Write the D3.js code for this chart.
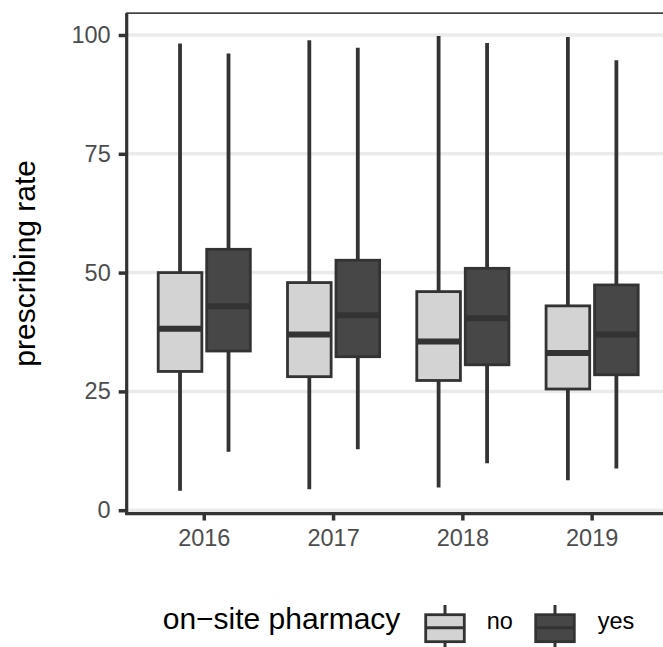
<!DOCTYPE html>
<html lang="en">
<head>
<meta charset="utf-8">
<title>Prescribing rate by year</title>
<script src="https://cdn.jsdelivr.net/npm/d3@7"></script>
<style>
  body { margin: 0; background: #fff; }
  text { font-family: "Liberation Sans", Arial, Helvetica, sans-serif; }
</style>
</head>
<body>
<script>

//****************************************************************************************************************************//
// Data  (box stats per year: [lower whisker, q1, median, q3, upper whisker])

var years = ["2016", "2017", "2018", "2019"];
var groups = ["no", "yes"];

var noBox = [
    [4.1, 29.2, 38.2, 50.0, 98.2],
    [4.4, 28.1, 37.0, 47.9, 98.9],
    [4.8, 27.3, 35.5, 46.0, 99.8],
    [6.3, 25.5, 33.1, 43.0, 99.6]
];

var yesBox = [
    [12.3, 33.5, 42.9, 54.9, 96.1],
    [12.8, 32.3, 41.0, 52.6, 97.3],
    [9.9, 30.6, 40.4, 50.9, 98.3],
    [8.8, 28.5, 37.0, 47.4, 94.7]
];

var yTicks = [0, 25, 50, 75, 100];
var fills = ["#d3d3d3", "#474747"];

//****************************************************************************************************************************//
// Canvas

var width = 663,
    height = 647;

var canvas = d3.select("body")
    .append("svg")
    .attr("width", width)
    .attr("height", height);

var panelLeft = 126.7,
    panelRight = 669.7;

var y = d3.scaleLinear().domain([0, 100]).range([510.2, 35]);
var panelTop = y(104.6),
    panelBottom = y(-0.7);

var x = d3.scaleBand().domain(years)
    .range([panelLeft, panelRight])
    .paddingInner(0).paddingOuter(0.1);

var step = x.step();
var dodge = d3.scaleBand().domain(groups)
    .range([-0.375 * step, 0.375 * step])
    .paddingInner(0.1).paddingOuter(0.05);

var color = d3.scaleOrdinal().domain(groups).range(fills);

//****************************************************************************************************************************//
// Grid

canvas.append("g")
    .selectAll("line")
    .data(yTicks)
    .join("line")
    .attr("x1", panelLeft).attr("x2", width)
    .attr("y1", d => y(d)).attr("y2", d => y(d))
    .attr("stroke", "#ebebeb")
    .attr("stroke-width", 3.5);

//****************************************************************************************************************************//
// Boxes

var rows = [];
years.forEach(function(yr, i){
    rows.push({year: yr, group: "no", s: noBox[i]});
    rows.push({year: yr, group: "yes", s: yesBox[i]});
});

var boxes = canvas.append("g")
    .selectAll("g")
    .data(rows)
    .join("g")
    .attr("transform", d => "translate(" + (x(d.year) + x.bandwidth() / 2) + ",0)");

boxes.append("line")
    .attr("x1", d => dodge(d.group) + dodge.bandwidth() / 2)
    .attr("x2", d => dodge(d.group) + dodge.bandwidth() / 2)
    .attr("y1", d => y(d.s[0]))
    .attr("y2", d => y(d.s[4]))
    .attr("stroke", "#333333")
    .attr("stroke-width", 3.8);

boxes.append("rect")
    .attr("x", d => dodge(d.group))
    .attr("width", dodge.bandwidth())
    .attr("y", d => y(d.s[3]))
    .attr("height", d => y(d.s[1]) - y(d.s[3]))
    .attr("fill", d => color(d.group))
    .attr("stroke", "#333333")
    .attr("stroke-width", 2.8);

boxes.append("line")
    .attr("x1", d => dodge(d.group))
    .attr("x2", d => dodge(d.group) + dodge.bandwidth())
    .attr("y1", d => y(d.s[2]))
    .attr("y2", d => y(d.s[2]))
    .attr("stroke", "#333333")
    .attr("stroke-width", 6);

//****************************************************************************************************************************//
// Panel border + axes

canvas.append("rect")
    .attr("x", panelLeft).attr("y", panelTop)
    .attr("width", panelRight - panelLeft)
    .attr("height", panelBottom - panelTop)
    .attr("fill", "none")
    .attr("stroke", "#333333")
    .attr("stroke-width", 1.6);

var yAxis = canvas.append("g")
    .attr("transform", "translate(" + panelLeft + ",0)")
    .call(d3.axisLeft(y).tickValues(yTicks).tickSize(8).tickPadding(8));

var xAxis = canvas.append("g")
    .attr("transform", "translate(0," + panelBottom + ")")
    .call(d3.axisBottom(x).tickSize(7).tickPadding(8));

[yAxis, xAxis].forEach(function(ax){
    ax.select(".domain").remove();
    ax.selectAll(".tick line").attr("stroke", "#333333").attr("stroke-width", 3.5);
    ax.selectAll(".tick text")
        .attr("fill", "#4d4d4d")
        .style("font-size", "23.5px")
        .style("font-family", "'Liberation Sans', Arial, sans-serif");
});

xAxis.selectAll(".tick text").attr("dy", "0.74em");

canvas.append("line")
    .attr("x1", panelLeft).attr("x2", panelLeft)
    .attr("y1", panelTop).attr("y2", panelBottom + 1.5)
    .attr("stroke", "#333333").attr("stroke-width", 3.2);

canvas.append("line")
    .attr("x1", panelLeft - 1.5).attr("x2", width)
    .attr("y1", panelBottom).attr("y2", panelBottom)
    .attr("stroke", "#333333").attr("stroke-width", 3.2);

canvas.append("text")
    .attr("transform", "translate(34.5," + ((panelTop + panelBottom) / 2) + ") rotate(-90)")
    .attr("text-anchor", "middle")
    .attr("fill", "#000")
    .style("font-size", "30px")
    .text("prescribing rate");

//****************************************************************************************************************************//
// Legend

var legend = canvas.append("g").attr("transform", "translate(162.7,629)");

legend.append("text")
    .attr("x", 0).attr("y", 0)
    .attr("fill", "#000")
    .style("font-size", "30px")
    .text("on\u2212site pharmacy");

var keyX = [261.6, 371.6],
    labelX = [324, 435];

var keys = legend.selectAll("g.key")
    .data(groups)
    .join("g")
    .attr("class", "key")
    .attr("transform", (d, i) => "translate(" + keyX[i] + ",0)");

keys.append("line")
    .attr("x1", 20.7).attr("x2", 20.7)
    .attr("y1", -24).attr("y2", 18)
    .attr("stroke", "#333333").attr("stroke-width", 3);

keys.append("rect")
    .attr("x", 1.4).attr("y", -14.3)
    .attr("width", 38.6).attr("height", 27)
    .attr("fill", d => color(d))
    .attr("stroke", "#333333").attr("stroke-width", 2.8);

keys.append("line")
    .attr("x1", 1.4).attr("x2", 40)
    .attr("y1", -1.3).attr("y2", -1.3)
    .attr("stroke", "#333333").attr("stroke-width", 3);

legend.selectAll("text.lab")
    .data(groups)
    .join("text")
    .attr("class", "lab")
    .attr("x", (d, i) => labelX[i])
    .attr("y", 0)
    .attr("fill", "#000")
    .style("font-size", "23.5px")
    .text(d => d);

</script>
</body>
</html>
